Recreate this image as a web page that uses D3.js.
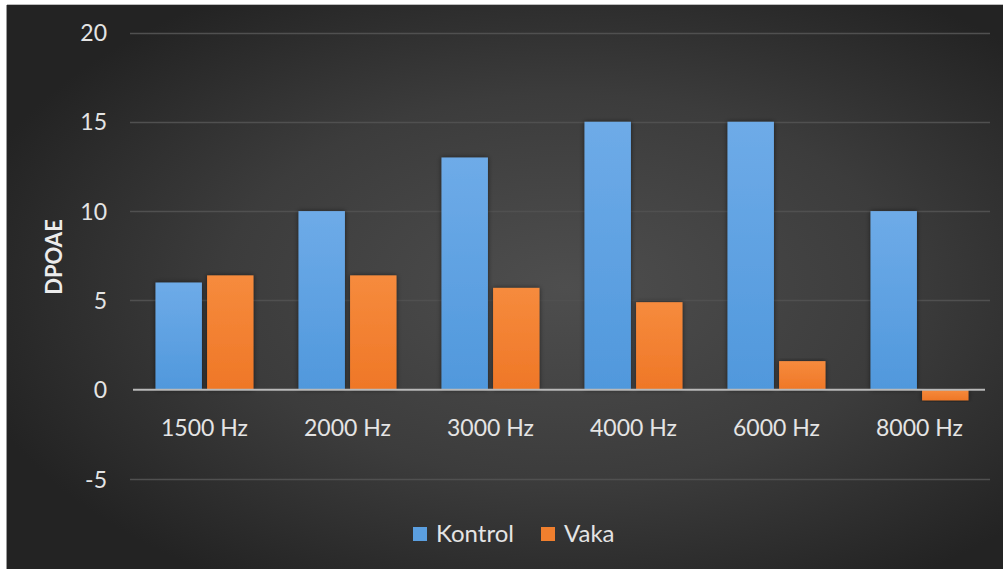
<!DOCTYPE html>
<html>
<head>
<meta charset="utf-8">
<script src="https://cdn.jsdelivr.net/npm/d3@7"></script>
<style>
  html, body { margin: 0; padding: 0; background: #ffffff; }
  svg { display: block; }
  text { font-family: Lato, "Open Sans", sans-serif; }
</style>
</head>
<body>
<svg id="chart" width="1003" height="569"></svg>
<script>
// DPOAE by frequency, control vs. case group
const categories = ["1500 Hz", "2000 Hz", "3000 Hz", "4000 Hz", "6000 Hz", "8000 Hz"];
const kontrol = [6, 10, 13, 15, 15, 10];
const vaka = [6.4, 6.4, 5.7, 4.9, 1.6, -0.6];
const seriesNames = ["Kontrol", "Vaka"];
const yTicks = [-5, 0, 5, 10, 15, 20];

const W = 1003, H = 569;
const svg = d3.select("#chart");
const defs = svg.append("defs");

// dark panel with a soft radial glow
const bg = defs.append("radialGradient").attr("id", "bgGrad")
  .attr("cx", "0.56").attr("cy", "0.5").attr("r", "0.62");
bg.append("stop").attr("offset", "0").attr("stop-color", "#4e4e4e");
bg.append("stop").attr("offset", "0.55").attr("stop-color", "#3c3c3c");
bg.append("stop").attr("offset", "1").attr("stop-color", "#232323");

const blueGrad = defs.append("linearGradient").attr("id", "blueGrad").attr("x1", 0).attr("x2", 0).attr("y1", 0).attr("y2", 1);
blueGrad.append("stop").attr("offset", "0").attr("stop-color", "#6eabe8");
blueGrad.append("stop").attr("offset", "1").attr("stop-color", "#5098dc");
const orangeGrad = defs.append("linearGradient").attr("id", "orangeGrad").attr("x1", 0).attr("x2", 0).attr("y1", 0).attr("y2", 1);
orangeGrad.append("stop").attr("offset", "0").attr("stop-color", "#f68b3d");
orangeGrad.append("stop").attr("offset", "1").attr("stop-color", "#ef7727");

const shadow = defs.append("filter").attr("id", "barShadow")
  .attr("x", "-20%").attr("y", "-10%").attr("width", "140%").attr("height", "120%");
shadow.append("feDropShadow").attr("dx", 0).attr("dy", 0).attr("stdDeviation", 2.5)
  .attr("flood-color", "#000").attr("flood-opacity", 0.55);

svg.append("rect").attr("x", 7).attr("y", 5).attr("width", W - 7).attr("height", H - 5)
  .attr("fill", "url(#bgGrad)");
svg.append("line").attr("x1", 6.5).attr("x2", 6.5).attr("y1", 5).attr("y2", H)
  .attr("stroke", "#9a9a9a").attr("stroke-width", 1);
svg.append("line").attr("x1", 7).attr("x2", W).attr("y1", 4.5).attr("y2", 4.5)
  .attr("stroke", "#bdbdbd").attr("stroke-width", 1);

const plotLeft = 133, plotRight = 991;
const y = d3.scaleLinear().domain([-5, 20]).range([479, 32.5]);
const x0 = d3.scaleBand().domain(categories).range([plotLeft, plotRight]).paddingInner(0.315).paddingOuter(0.1575);
const x1 = d3.scaleBand().domain(seriesNames).range([0, x0.bandwidth()]).paddingInner(0.1);

// horizontal gridlines
svg.append("g").selectAll("line").data(yTicks.filter(t => t !== 0)).join("line")
  .attr("x1", 130).attr("x2", 990)
  .attr("y1", d => Math.round(y(d)) + 0.5).attr("y2", d => Math.round(y(d)) + 0.5)
  .attr("stroke", "#505050").attr("stroke-width", 1.5);

// y axis labels
const yAxis = d3.axisLeft(y).tickValues(yTicks).tickFormat(d => String(d)).tickSize(0).tickPadding(0);
const yg = svg.append("g").attr("transform", "translate(107,0)").call(yAxis);
yg.select(".domain").remove();
yg.selectAll("text").attr("fill", "#e4e4e4").attr("font-size", 23).attr("dy", "0.35em");

svg.append("text").attr("transform", `translate(62,257) rotate(-90)`)
  .attr("text-anchor", "middle").attr("fill", "#ececec")
  .attr("font-size", 22).attr("font-weight", "bold").text("DPOAE");

// bars
const groups = svg.append("g").selectAll("g").data(categories).join("g")
  .attr("transform", d => `translate(${x0(d)},0)`);
groups.selectAll("rect").data((d, i) => [
  { s: "Kontrol", v: kontrol[i] },
  { s: "Vaka", v: vaka[i] }
]).join("rect")
  .attr("x", d => x1(d.s))
  .attr("width", x1.bandwidth())
  .attr("y", d => y(Math.max(0, d.v)))
  .attr("height", d => Math.abs(y(d.v) - y(0)))
  .attr("fill", d => d.s === "Kontrol" ? "url(#blueGrad)" : "url(#orangeGrad)")
  .attr("filter", "url(#barShadow)");

// zero baseline
svg.append("line").attr("x1", plotLeft).attr("x2", 985)
  .attr("y1", y(0)).attr("y2", y(0))
  .attr("stroke", "#b9b9b9").attr("stroke-width", 2);

// category labels
const xAxis = d3.axisBottom(x0).tickSize(0).tickPadding(0);
const xg = svg.append("g").attr("transform", "translate(0,428)").call(xAxis);
xg.select(".domain").remove();
xg.selectAll("text").attr("fill", "#e4e4e4").attr("font-size", 23).attr("dy", "0.35em");

// legend
const color = d3.scaleOrdinal().domain(seriesNames).range(["#5b9fe0", "#f07f2e"]);
const legendX = [413, 541];
const legend = svg.append("g").selectAll("g").data(seriesNames).join("g")
  .attr("transform", (d, i) => `translate(${legendX[i]},534)`);
legend.append("rect").attr("x", 0).attr("y", -7).attr("width", 14).attr("height", 14)
  .attr("fill", d => color(d));
legend.append("text").attr("x", 23).attr("dy", "0.35em").attr("fill", "#e4e4e4")
  .attr("font-size", 24).text(d => d);
</script>
</body>
</html>
